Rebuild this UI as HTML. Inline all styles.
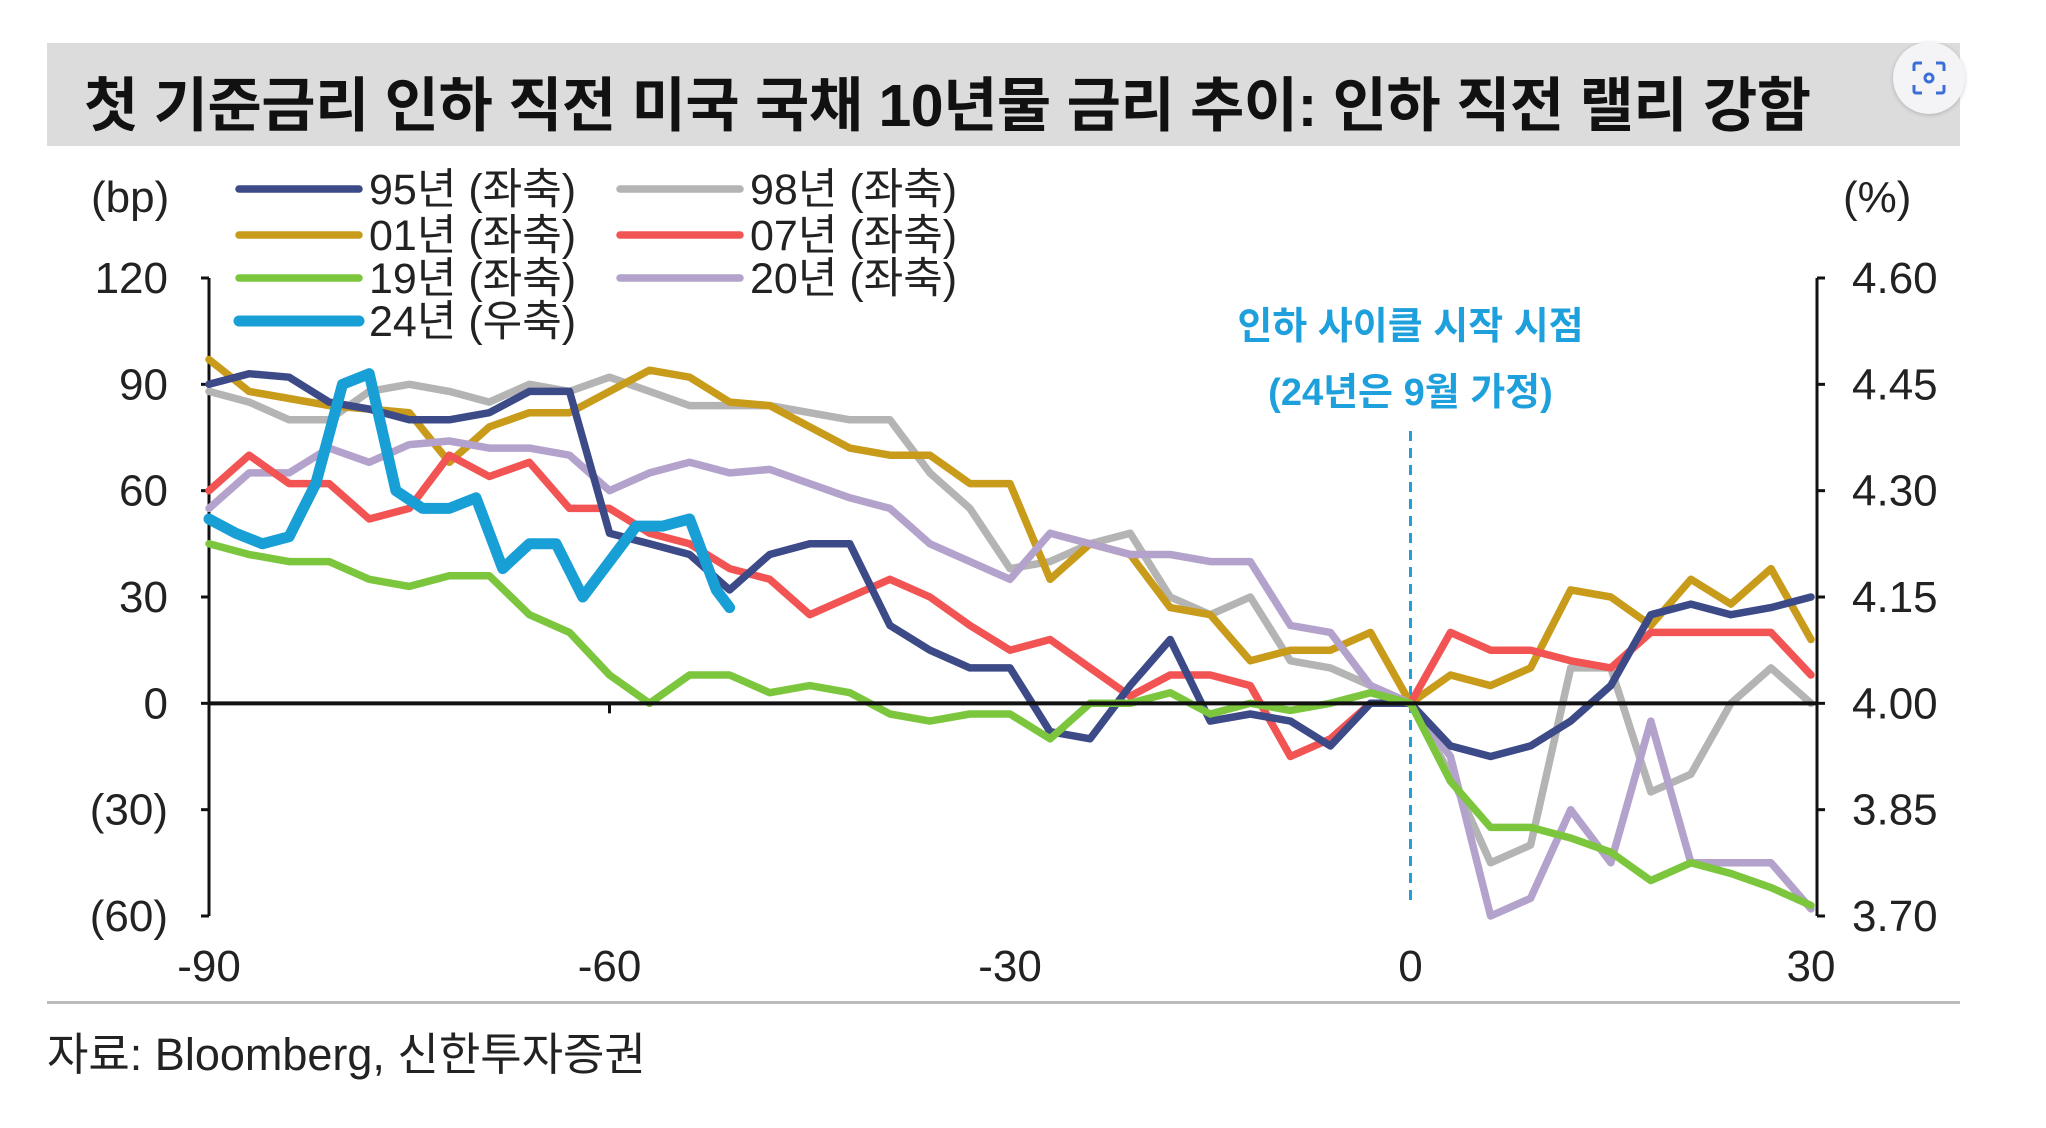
<!DOCTYPE html>
<html><head><meta charset="utf-8"><style>
html,body{margin:0;padding:0;background:#fff;}
body{width:2046px;height:1128px;position:relative;overflow:hidden;font-family:"Liberation Sans","Noto Sans CJK KR",sans-serif;}
</style></head><body>
<div style="position:absolute;left:47px;top:43px;width:1913px;height:103px;background:#dcdcdc;"></div>
<div style="position:absolute;left:84px;top:58px;font-size:59px;font-weight:bold;color:#111;font-family:'Liberation Sans','Noto Sans CJK KR',sans-serif;white-space:nowrap;letter-spacing:-0.5px;">첫 기준금리 인하 직전 미국 국채 10년물 금리 추이: 인하 직전 랠리 강함</div>
<div style="position:absolute;left:1893px;top:42px;width:72px;height:72px;border-radius:50%;background:#f4f4f6;box-shadow:0 1px 4px rgba(0,0,0,0.2);"></div>
<svg style="position:absolute;left:1911px;top:60px" width="36" height="36" viewBox="0 0 36 36"><path d="M3 11V5a2 2 0 0 1 2-2h6M25 3h6a2 2 0 0 1 2 2v6M33 25v6a2 2 0 0 1-2 2h-6M11 33H5a2 2 0 0 1-2-2v-6" fill="none" stroke="#3a6fd8" stroke-width="3"/><circle cx="18" cy="18" r="4" fill="none" stroke="#3a6fd8" stroke-width="3"/></svg>
<svg id="chart" width="2046" height="1128" style="position:absolute;left:0;top:0"></svg>
<div style="position:absolute;left:47px;top:1001px;width:1913px;height:3px;background:#bbb;"></div>
<div style="position:absolute;left:47px;top:1018px;font-size:45px;color:#222;white-space:nowrap;">자료: Bloomberg, 신한투자증권</div>
<script>
const days = [-90,-87,-84,-81,-78,-75,-72,-69,-66,-63,-60,-57,-54,-51,-48,-45,-42,-39,-36,-33,-30,-27,-24,-21,-18,-15,-12,-9,-6,-3,0,3,6,9,12,15,18,21,24,27,30];
const s95 = [90,93,92,85,83,80,80,82,88,88,48,45,42,32,42,45,45,22,15,10,10,-8,-10,5,18,-5,-3,-5,-12,0,0,-12,-15,-12,-5,5,25,28,25,27,30];
const s98 = [88,85,80,80,88,90,88,85,90,88,92,88,84,84,84,82,80,80,65,55,38,40,45,48,30,25,30,12,10,5,0,-20,-45,-40,10,10,-25,-20,0,10,0];
const s01 = [97,88,86,84,83,82,68,78,82,82,88,94,92,85,84,78,72,70,70,62,62,35,45,42,27,25,12,15,15,20,0,8,5,10,32,30,22,35,28,38,18];
const s07 = [60,70,62,62,52,55,70,64,68,55,55,48,45,38,35,25,30,35,30,22,15,18,10,2,8,8,5,-15,-10,0,0,20,15,15,12,10,20,20,20,20,8];
const s19 = [45,42,40,40,35,33,36,36,25,20,8,0,8,8,3,5,3,-3,-5,-3,-3,-10,0,0,3,-3,0,-2,0,3,0,-22,-35,-35,-38,-42,-50,-45,-48,-52,-57];
const s20 = [55,65,65,72,68,73,74,72,72,70,60,65,68,65,66,62,58,55,45,40,35,48,45,42,42,40,40,22,20,5,0,-15,-60,-55,-30,-45,-5,-45,-45,-45,-58];
const days24 = [-90,-88,-86,-84,-82,-80,-78,-76,-74,-72,-70,-68,-66,-64,-62,-60,-58,-56,-54,-52,-51];
const s24 = [4.26,4.24,4.225,4.235,4.31,4.45,4.465,4.30,4.275,4.275,4.29,4.19,4.225,4.225,4.15,4.20,4.25,4.25,4.26,4.16,4.135];
const xTicks = [-90,-60,-30,0,30];
const yTicks = [120,90,60,30,0,-30,-60];
const yTickLabels = ["120","90","60","30","0","(30)","(60)"];
const rTicks = [4.60,4.45,4.30,4.15,4.00,3.85,3.70];
const rTickLabels = ["4.60","4.45","4.30","4.15","4.00","3.85","3.70"];

const NS="http://www.w3.org/2000/svg";
const svg=document.getElementById('chart');
const X0=209,X1=1811,Y0=278,Y1=916;
const xs=d=>X0+(d+90)/120*(X1-X0);
const ys=v=>Y0+(120-v)/180*(Y1-Y0);
const yr=v=>Y0+(4.6-v)/0.9*(Y1-Y0);
const AXR=1817;
function mk(t,a){const e=document.createElementNS(NS,t);for(const k in a)e.setAttribute(k,a[k]);svg.appendChild(e);return e;}

let e;
e=mk('line',{x1:X0,y1:Y0,x2:X0,y2:Y1,stroke:'#111','stroke-width':3});


e=mk('line',{x1:AXR,y1:Y0,x2:AXR,y2:Y1,stroke:'#111','stroke-width':3});


yTicks.forEach((v,i)=>{
  const y=ys(v);
  e=mk('line',{x1:X0-8,y1:y,x2:X0,y2:y,stroke:'#111','stroke-width':3});
  
  
  e=mk('text',{x:168,y:y+15,'text-anchor':'end','font-size':44,fill:'#222'});
  e.textContent=yTickLabels[i];
  
  
});
rTicks.forEach((v,i)=>{
  const y=yr(v);
  e=mk('line',{x1:AXR,y1:y,x2:AXR+8,y2:y,stroke:'#111','stroke-width':3});
  
  
  e=mk('text',{x:1852,y:y+15,'font-size':44,fill:'#222'});
  e.textContent=rTickLabels[i];
  
  
});
xTicks.forEach(d=>{
  e=mk('text',{x:xs(d),y:981,'text-anchor':'middle','font-size':44,fill:'#222'});
  e.textContent=d<0?'-'+(-d):String(d);
  
  
});
e=mk('line',{x1:xs(-60),y1:ys(0),x2:xs(-60),y2:ys(0)+10,stroke:'#111','stroke-width':3});


e=mk('text',{x:91,y:212,'font-size':44,fill:'#222'});e.textContent='(bp)';


e=mk('text',{x:1843,y:212,'font-size':44,fill:'#222'});e.textContent='(%)';



e=mk('line',{x1:xs(0),y1:431,x2:xs(0),y2:900,stroke:'#1ea0dc','stroke-width':3,'stroke-dasharray':'10,7'});


e=mk('text',{x:xs(0),y:339,'text-anchor':'middle','font-size':38,'font-weight':'bold',fill:'#1ea0dc'});e.textContent='인하 사이클 시작 시점';


e=mk('text',{x:xs(0),y:405,'text-anchor':'middle','font-size':38,'font-weight':'bold',fill:'#1ea0dc'});e.textContent='(24년은 9월 가정)';



function series(dd,vals,fy,color,w,name){
  const pts=dd.map((d,i)=>xs(d).toFixed(1)+','+fy(vals[i]).toFixed(1)).join(' ');
  const p=mk('polyline',{points:pts,fill:'none',stroke:color,'stroke-width':w,'stroke-linejoin':'round','stroke-linecap':'round'});
  
  
}
series(days,s98,ys,'#b4b4b4',7.5,'series-98');
series(days,s01,ys,'#c89b1a',7.5,'series-01');
series(days,s20,ys,'#b3a2cc',7.5,'series-20');
series(days,s07,ys,'#f25454',7.5,'series-07');
series(days,s95,ys,'#3d4a88',7.5,'series-95');
series(days,s19,ys,'#7cc63e',7.5,'series-19');
e=mk('line',{x1:X0,y1:ys(0),x2:AXR,y2:ys(0),stroke:'#111','stroke-width':4});


series(days24,s24,yr,'#189fd6',11,'series-24');

const leg=[['95년 (좌축)','#3d4a88',239,189,7.5],['98년 (좌축)','#b4b4b4',620,189,7.5],['01년 (좌축)','#c89b1a',239,235,7.5],['07년 (좌축)','#f25454',620,235,7.5],['19년 (좌축)','#7cc63e',239,278,7.5],['20년 (좌축)','#b3a2cc',620,278,7.5],['24년 (우축)','#189fd6',239,321,11]];
leg.forEach(l=>{
  e=mk('line',{x1:l[2],y1:l[3],x2:l[2]+120,y2:l[3],stroke:l[1],'stroke-width':l[4],'stroke-linecap':'round'});
  
  
  e=mk('text',{x:l[2]+130,y:l[3]+15,'font-size':43,fill:'#222'});e.textContent=l[0];
  
  
});
</script>
</body></html>
